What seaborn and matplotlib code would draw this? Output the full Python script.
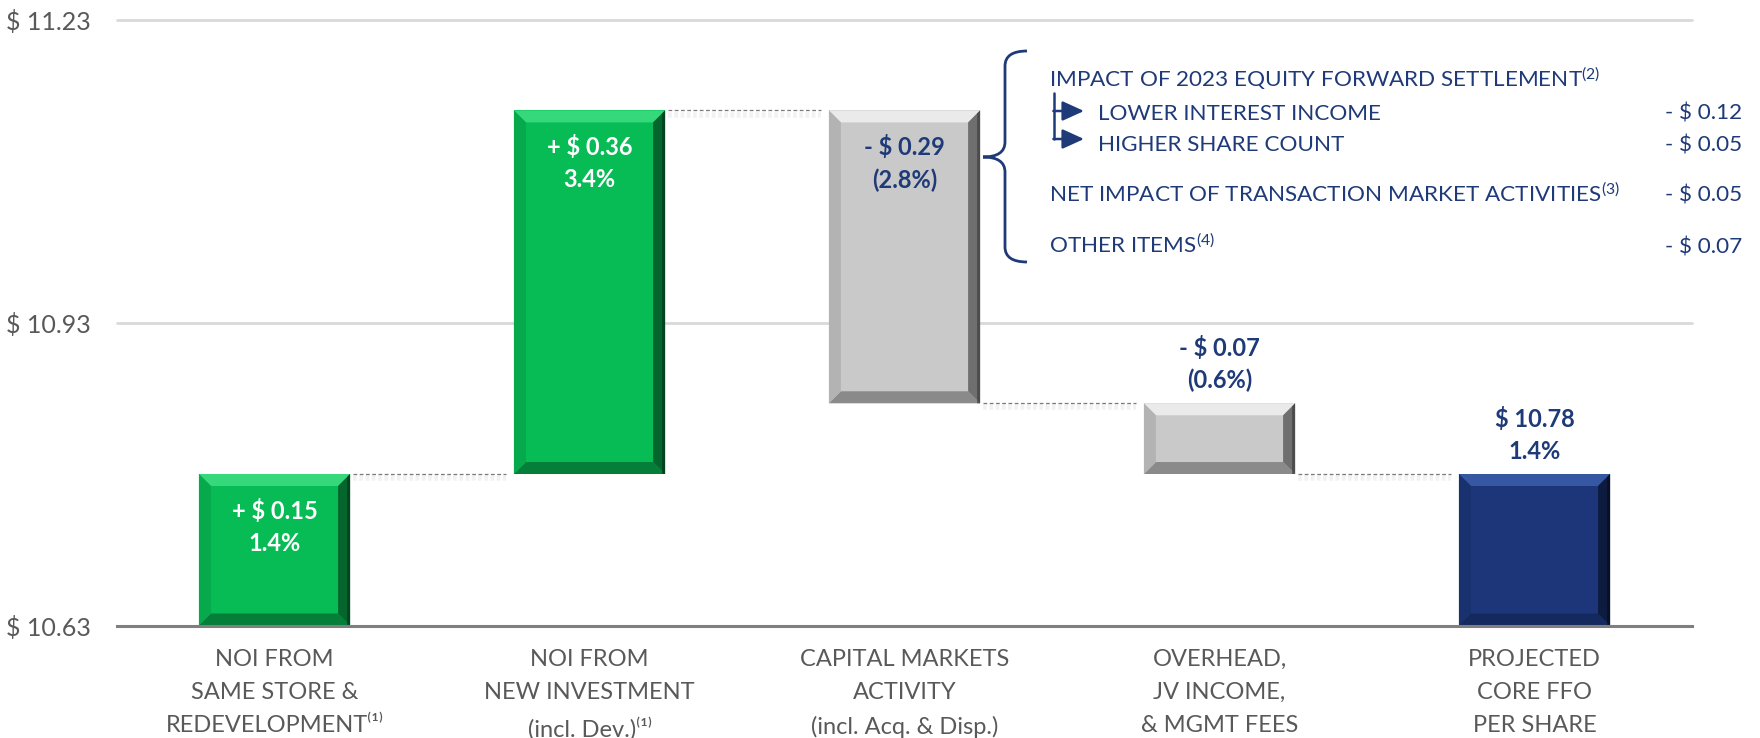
import numpy as np
import pandas as pd
import matplotlib
matplotlib.use("Agg")
import matplotlib.pyplot as plt
import seaborn as sns
from matplotlib.path import Path
from matplotlib.patches import PathPatch, Polygon, FancyArrowPatch
from matplotlib.transforms import IdentityTransform
import matplotlib.patheffects as pe

# ---------------- data ----------------
categories = [
    "NOI FROM\nSAME STORE &\nREDEVELOPMENT\u207d\u00b9\u207e",
    "NOI FROM\nNEW INVESTMENT\n(incl. Dev.)\u207d\u00b9\u207e",
    "CAPITAL MARKETS\nACTIVITY\n(incl. Acq. & Disp.)",
    "OVERHEAD,\nJV INCOME,\n& MGMT FEES",
    "PROJECTED\nCORE FFO\nPER SHARE",
]
start_value = 10.63
changes = [0.15, 0.36, -0.29, -0.07]
end_value = 10.78
value_labels = ["+ $ 0.15", "+ $ 0.36", "- $ 0.29", "- $ 0.07", "$ 10.78"]
pct_labels = ["1.4%", "3.4%", "(2.8%)", "(0.6%)", "1.4%"]
ytick_values = [10.63, 10.93, 11.23]
ytick_labels = ["$ 10.63", "$ 10.93", "$ 11.23"]

bridge_items = [
    "IMPACT OF 2023 EQUITY FORWARD SETTLEMENT$^{(2)}$",
    "LOWER INTEREST INCOME",
    "HIGHER SHARE COUNT",
    "NET IMPACT OF TRANSACTION MARKET ACTIVITIES$^{(3)}$",
    "OTHER ITEMS$^{(4)}$",
]
bridge_values = ["", "- $ 0.12", "- $ 0.05", "- $ 0.05", "- $ 0.07"]

# ---------------- derived ----------------
running = start_value + np.concatenate([[0.0], np.cumsum(changes)])
bottoms = [min(running[i], running[i + 1]) for i in range(len(changes))] + [start_value]
heights = [abs(c) for c in changes] + [end_value - start_value]
df = pd.DataFrame({"cat": categories, "height": heights, "bottom": bottoms})

# ---------------- style ----------------
sns.set_theme(style="white")
plt.rcParams["font.family"] = ["Lato", "DejaVu Sans"]
plt.rcParams["mathtext.fontset"] = "custom"
plt.rcParams["mathtext.rm"] = "Lato"
plt.rcParams["mathtext.it"] = "Lato:italic"
plt.rcParams["mathtext.bf"] = "Lato:bold"

W, H = 1760, 738
fig = plt.figure(figsize=(W / 100, H / 100), dpi=100)
fig.patch.set_facecolor("white")
ax = fig.add_axes([117 / W, 1 - 625.5 / H, (1692 - 117) / W, (625.5 - 19.5) / H])

NAVY = "#1F3A78"
GREEN = "#07BB55"
GREY = "#C8C9C8"
DARKNAVY = "#1D3679"
bar_colors = [GREEN, GREEN, GREY, GREY, DARKNAVY]
bevels = {
    GREEN: dict(top="#35D97C", left="#06A94C", right="#04652D", bottom="#057E3A", edge="#02361A"),
    GREY: dict(top="#EAEAEA", left="#B3B3B3", right="#6F6F6F", bottom="#8A8A8A", edge="#3E3E3E"),
    DARKNAVY: dict(top="#3657A2", left="#1A3170", right="#0D1B3E", bottom="#142A5E", edge="#050C1E"),
}

BW = 0.48
sns.barplot(data=df, x="cat", y="height", bottom=df["bottom"].values, width=BW,
            color=GREEN, saturation=1, errorbar=None, linewidth=0, ax=ax, zorder=2)
for p, c in zip(ax.patches, bar_colors):
    p.set_facecolor(c)

ax.set_xlim(-0.5, len(categories) - 0.5)
ax.set_ylim(ytick_values[0], ytick_values[-1])
ax.set_yticks(ytick_values)
ax.set_yticklabels(ytick_labels)
ax.set_xlabel("")
ax.set_ylabel("")
ax.yaxis.grid(True, color="#D9D9D9", lw=2)
for gl in ax.get_ygridlines():
    gl.set_clip_on(False)
ax.set_axisbelow(True)
for s in ["top", "right", "left"]:
    ax.spines[s].set_visible(False)
ax.spines["bottom"].set_color("#7F7F7F")
ax.spines["bottom"].set_linewidth(2.2)
ax.spines["bottom"].set_zorder(3)
ax.tick_params(axis="y", length=0, pad=19, labelsize=18, labelcolor="#595959")
ax.tick_params(axis="x", length=0, pad=17, labelsize=17, labelcolor="#595959")
for t in ax.get_xticklabels():
    t.set_linespacing(1.7)
    t.set_multialignment("center")

# ---------------- bevels ----------------
b = 12
for p, c in zip(ax.patches, bar_colors):
    (x0, y0) = ax.transData.transform((p.get_x(), p.get_y()))
    (x1, y1) = ax.transData.transform((p.get_x() + p.get_width(), p.get_y() + p.get_height()))
    cols = bevels[c]
    polys = {
        "top": [(x0, y1), (x1, y1), (x1 - b, y1 - b), (x0 + b, y1 - b)],
        "bottom": [(x0, y0), (x1, y0), (x1 - b, y0 + b), (x0 + b, y0 + b)],
        "left": [(x0, y0), (x0, y1), (x0 + b, y1 - b), (x0 + b, y0 + b)],
        "right": [(x1, y0), (x1, y1), (x1 - b, y1 - b), (x1 - b, y0 + b)],
    }
    for k in ["top", "bottom", "left", "right"]:
        ax.add_artist(Polygon(polys[k], closed=True, facecolor=cols[k], edgecolor="none",
                              transform=IdentityTransform(), zorder=2.5))
    ax.add_artist(Polygon([(x1 - 3, y0), (x1, y0), (x1, y1), (x1 - 3, y1 - 3)], closed=True,
                          facecolor=cols["edge"], edgecolor="none", alpha=0.7,
                          transform=IdentityTransform(), zorder=2.6))

# ---------------- connectors ----------------
for i in range(len(changes)):
    lvl = running[i + 1]
    ax.hlines(lvl, i + BW / 2 + 0.01, i + 1 - BW / 2 - 0.025, colors="#7A7A7A",
              linestyles=(0, (3, 2)), lw=0.9, zorder=2,
              path_effects=[pe.SimpleLineShadow(offset=(0, -3), shadow_color="#999999",
                                                alpha=0.12, linewidth=4), pe.Normal()])

# ---------------- bar labels ----------------
for i in range(len(categories)):
    top = bottoms[i] + heights[i]
    txt = f"{value_labels[i]}\n{pct_labels[i]}"
    if i < 3:
        col = "white" if i < 2 else NAVY
        ax.annotate(txt, xy=(i, top), xytext=(0, -25), textcoords="offset pixels",
                    ha="center", va="top", fontsize=17, fontweight="bold", color=col,
                    linespacing=1.45, zorder=5)
    else:
        ax.annotate(txt, xy=(i, top), xytext=(0, 11), textcoords="offset pixels",
                    ha="center", va="bottom", fontsize=17, fontweight="bold", color=NAVY,
                    linespacing=1.45, zorder=5)

# ---------------- bridge annotation ----------------
def fp(x, y):
    return (x / W, 1 - y / H)

item_x = [1049, 1098, 1098, 1049, 1049]
item_y = [87, 120, 151, 202, 253]
for s, v, xx, yy in zip(bridge_items, bridge_values, item_x, item_y):
    fig.text(*fp(xx, yy), s, ha="left", va="baseline", fontsize=16.2, color=NAVY)
    if v:
        fig.text(*fp(1742, yy), v, ha="right", va="baseline", fontsize=16.2, color=NAVY)

# brace
verts = [(1027, 51), (1005, 51), (1005, 66), (1005, 142), (1005, 157), (983, 157),
         (1005, 157), (1005, 172), (1005, 247), (1005, 262), (1027, 262)]
codes = [Path.MOVETO, Path.CURVE3, Path.CURVE3, Path.LINETO, Path.CURVE3, Path.CURVE3,
         Path.CURVE3, Path.CURVE3, Path.LINETO, Path.CURVE3, Path.CURVE3]
verts_d = [(x, H - y) for x, y in verts]
fig.add_artist(PathPatch(Path(verts_d, codes), facecolor="none", edgecolor=NAVY, lw=2.0,
                         transform=IdentityTransform()))

# elbow arrows
fig.add_artist(plt.Line2D([1054, 1054], [H - 93, H - 139], color=NAVY, lw=1.8,
                          transform=IdentityTransform()))
for yy in [111, 139]:
    fig.add_artist(FancyArrowPatch((1053.4, H - yy), (1084, H - yy),
                                   arrowstyle="-|>,head_length=1.1,head_width=0.5",
                                   mutation_scale=12, lw=1.8, color=NAVY,
                                   shrinkA=0, shrinkB=0, transform=IdentityTransform()))

fig.savefig("out.png", dpi=100, facecolor="white")
